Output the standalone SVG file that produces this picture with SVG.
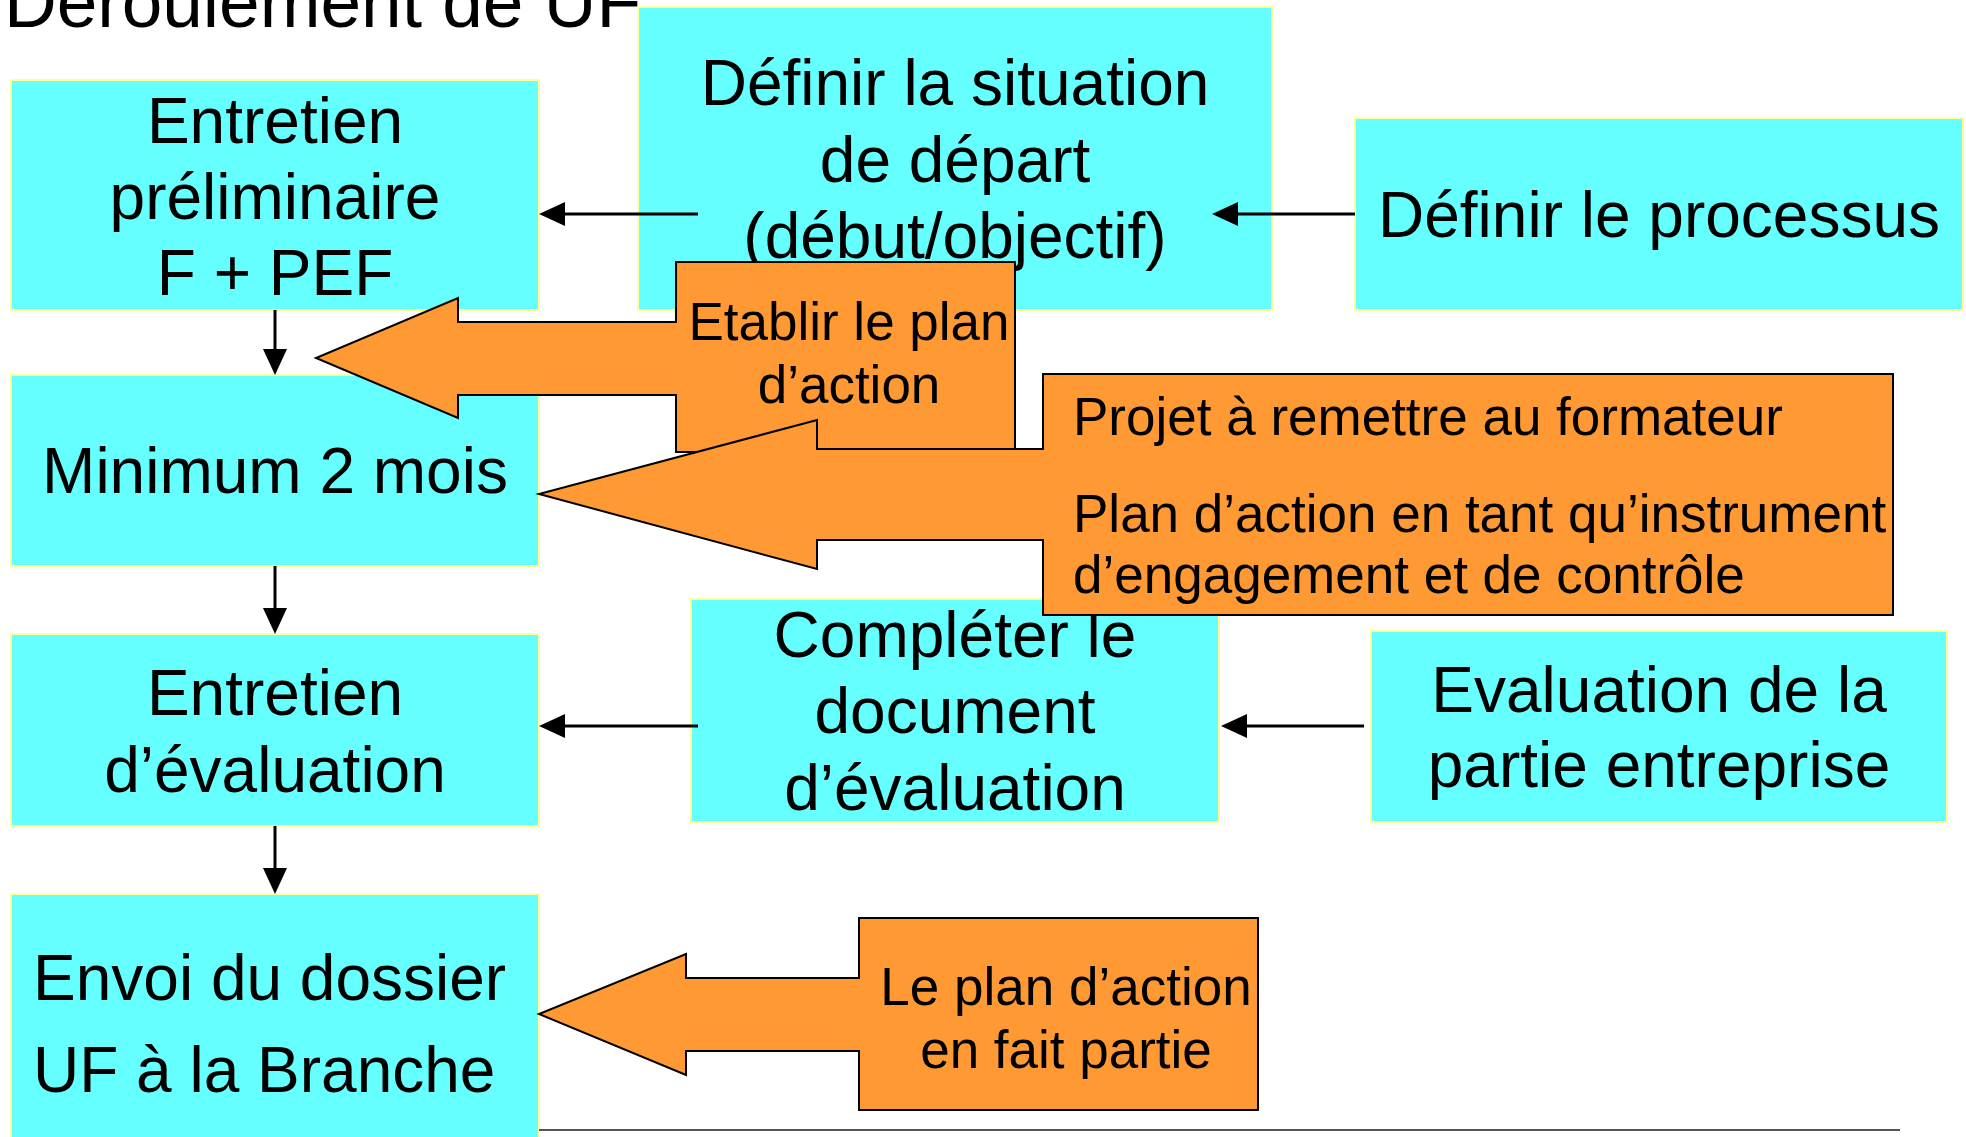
<svg xmlns="http://www.w3.org/2000/svg" width="1966" height="1137" viewBox="0 0 1966 1137">
<style>
.node{fill:#66FFFF;stroke:#FFFF99;stroke-width:2}
.call{fill:#FF9933;stroke:#000;stroke-width:2;stroke-linejoin:miter}
.t{font-family:"Liberation Sans",Arial,sans-serif;fill:#000}
.big{font-size:64px;text-anchor:middle}
.sm{font-size:53px}
.conn{stroke:#000;stroke-width:3;fill:none}
</style>
<defs>
<marker id="ah" markerUnits="userSpaceOnUse" markerWidth="26" markerHeight="24" refX="0" refY="12" orient="auto" overflow="visible">
<path d="M0,0 L26,12 L0,24 Z" fill="#000"/>
</marker>
</defs>
<rect width="1966" height="1137" fill="#fff"/>
<text class="t" x="4" y="27" font-size="73">Déroulement de UF</text>

<g id="n-entretien-prelim">
<rect class="node" x="11" y="80" width="528" height="230"/>
<text class="t big" x="275" y="143">Entretien</text>
<text class="t big" x="275" y="219">préliminaire</text>
<text class="t big" x="275" y="295">F + PEF</text>
</g>
<g id="n-situation">
<rect class="node" x="638" y="7" width="634" height="303"/>
<text class="t big" x="955" y="105">Définir la situation</text>
<text class="t big" x="955" y="182">de départ</text>
<text class="t big" x="955" y="258">(début/objectif)</text>
</g>
<g id="n-processus">
<rect class="node" x="1355" y="118" width="608" height="192"/>
<text class="t big" x="1659" y="237">Définir le processus</text>
</g>
<g id="n-minimum">
<rect class="node" x="11" y="375" width="528" height="191"/>
<text class="t big" x="275" y="493">Minimum 2 mois</text>
</g>
<g id="n-entretien-eval">
<rect class="node" x="11" y="634" width="528" height="192"/>
<text class="t big" x="275" y="715">Entretien</text>
<text class="t big" x="275" y="792">d’évaluation</text>
</g>
<g id="n-completer">
<rect class="node" x="691" y="599" width="528" height="223"/>
<text class="t big" x="955" y="657">Compléter le</text>
<text class="t big" x="955" y="733">document</text>
<text class="t big" x="955" y="810">d’évaluation</text>
</g>
<g id="n-evaluation">
<rect class="node" x="1371" y="631" width="576" height="191"/>
<text class="t big" x="1659" y="712">Evaluation de la</text>
<text class="t big" x="1659" y="787">partie entreprise</text>
</g>
<g id="n-envoi">
<rect class="node" x="11" y="894" width="528" height="260"/>
<text class="t" x="33" y="1000" font-size="64">Envoi du dossier</text>
<text class="t" x="33" y="1092" font-size="64">UF à la Branche</text>
</g>

<g id="connectors">
<line class="conn" x1="698" y1="214" x2="565" y2="214" marker-end="url(#ah)"/>
<line class="conn" x1="1355" y1="214" x2="1238" y2="214" marker-end="url(#ah)"/>
<line class="conn" x1="275" y1="310" x2="275" y2="349" marker-end="url(#ah)"/>
<line class="conn" x1="275" y1="566" x2="275" y2="608" marker-end="url(#ah)"/>
<line class="conn" x1="698" y1="726" x2="565" y2="726" marker-end="url(#ah)"/>
<line class="conn" x1="1364" y1="726" x2="1247" y2="726" marker-end="url(#ah)"/>
<line class="conn" x1="275" y1="826" x2="275" y2="868" marker-end="url(#ah)"/>
</g>

<g id="n-etablir">
<path class="call" d="M676,262 L1015,262 L1015,452 L676,452 L676,395 L458,395 L458,418 L316,358 L458,298 L458,322 L676,322 Z"/>
<text class="t sm" x="849" y="340" text-anchor="middle">Etablir le plan</text>
<text class="t sm" x="849" y="403" text-anchor="middle">d’action</text>
</g>
<g id="n-projet">
<path class="call" d="M1043,374 L1893,374 L1893,615 L1043,615 L1043,540 L817,540 L817,569 L539,494 L817,420 L817,449 L1043,449 Z"/>
<text class="t sm" x="1073" y="435">Projet à remettre au formateur</text>
<text class="t sm" x="1073" y="532">Plan d’action en tant qu’instrument</text>
<text class="t sm" x="1073" y="593">d’engagement et de contrôle</text>
</g>
<g id="n-leplan">
<path class="call" d="M859,918 L1258,918 L1258,1110 L859,1110 L859,1051 L686,1051 L686,1075 L539,1014 L686,954 L686,978 L859,978 Z"/>
<text class="t sm" x="1066" y="1005" text-anchor="middle">Le plan d’action</text>
<text class="t sm" x="1066" y="1068" text-anchor="middle">en fait partie</text>
</g>
<line x1="539" y1="1130" x2="1900" y2="1130" stroke="#555" stroke-width="2"/>
</svg>
